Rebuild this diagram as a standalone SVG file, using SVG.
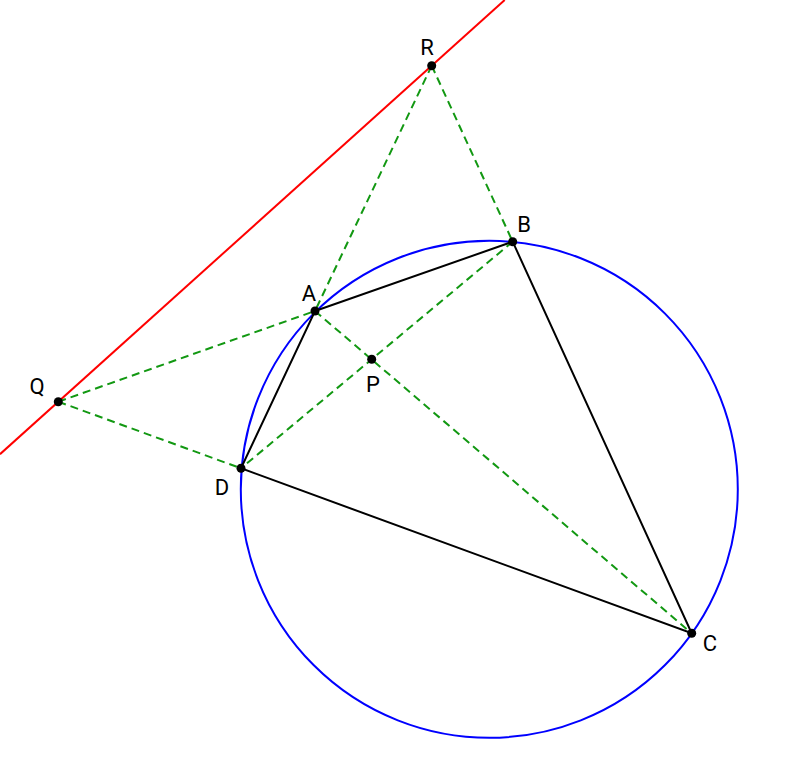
<svg xmlns="http://www.w3.org/2000/svg" width="800" height="775" viewBox="0 0 800 775">
<style>
.side{stroke:#000;stroke-width:2;fill:none}
.dash{stroke:#129812;stroke-width:2;stroke-dasharray:8,5;fill:none}
.pt{fill:#000}
.lbl{font-family:Roboto,"Noto Sans",sans-serif;font-size:22px;fill:#000;text-anchor:middle}
</style>
<rect width="800" height="775" fill="#fff"/>
<g id="connectors">
<line x1="0" y1="454.2" x2="504.7" y2="0" stroke="#ff0000" stroke-width="2"/>
<circle cx="489.3" cy="489.3" r="248.5" fill="none" stroke="#0000ff" stroke-width="2"/>
<line class="dash" x1="431.7" y1="65.7" x2="315" y2="311"/>
<line class="dash" x1="431.7" y1="65.7" x2="512.7" y2="241.7"/>
<line class="dash" x1="58.3" y1="401.7" x2="315" y2="311"/>
<line class="dash" x1="58.3" y1="401.7" x2="241" y2="468.3"/>
<line class="dash" x1="315" y1="311" x2="691.7" y2="633.3"/>
<line class="dash" x1="512.7" y1="241.7" x2="241" y2="468.3"/>
<polygon class="side" points="315,311 512.7,241.7 691.7,633.3 241,468.3"/>
</g>
<g id="A"><circle class="pt" cx="315" cy="311" r="4.5"/><text class="lbl" x="309" y="301">A</text></g>
<g id="B"><circle class="pt" cx="512.7" cy="241.7" r="4.5"/><text class="lbl" x="524" y="232">B</text></g>
<g id="C"><circle class="pt" cx="691.7" cy="633.3" r="4.5"/><text class="lbl" x="710" y="651">C</text></g>
<g id="D"><circle class="pt" cx="241" cy="468.3" r="4.5"/><text class="lbl" x="222" y="495">D</text></g>
<g id="P"><circle class="pt" cx="371.7" cy="359.3" r="4.5"/><text class="lbl" x="373" y="392">P</text></g>
<g id="Q"><circle class="pt" cx="58.3" cy="401.7" r="4.5"/><text class="lbl" x="37" y="394">Q</text></g>
<g id="R"><circle class="pt" cx="431.7" cy="65.7" r="4.5"/><text class="lbl" x="427" y="55">R</text></g>
</svg>
